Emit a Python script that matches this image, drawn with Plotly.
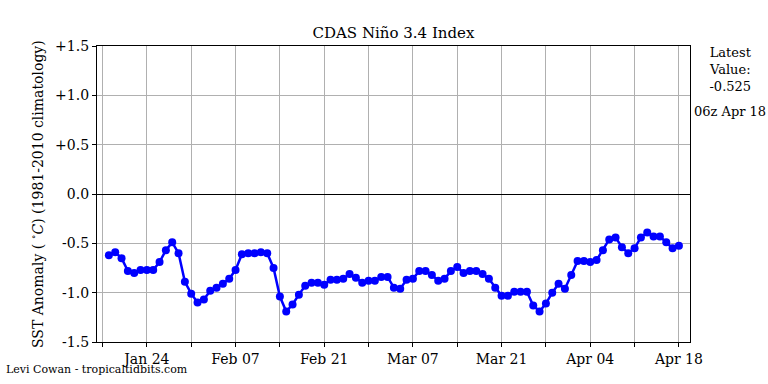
import plotly.graph_objects as go
import pandas as pd

start_date = "2018-01-18"
anomaly = [
    -0.62, -0.59, -0.65, -0.78, -0.80, -0.77, -0.77, -0.77, -0.69, -0.57,
    -0.49, -0.60, -0.89, -1.01, -1.10, -1.07, -0.98, -0.95, -0.91, -0.86,
    -0.77, -0.61, -0.60, -0.60, -0.59, -0.60, -0.75, -1.04, -1.19, -1.12,
    -1.02, -0.93, -0.90, -0.90, -0.92, -0.87, -0.87, -0.86, -0.81, -0.85,
    -0.90, -0.88, -0.88, -0.84, -0.84, -0.95, -0.96, -0.87, -0.86, -0.78,
    -0.78, -0.82, -0.88, -0.86, -0.78, -0.74, -0.80, -0.78, -0.78, -0.81,
    -0.86, -0.95, -1.03, -1.03, -0.99, -0.99, -0.99, -1.13, -1.19, -1.11,
    -1.00, -0.91, -0.96, -0.82, -0.68, -0.68, -0.69, -0.67, -0.57, -0.46,
    -0.44, -0.54, -0.60, -0.55, -0.44, -0.39, -0.43, -0.43, -0.49, -0.55,
    -0.525,
]
dates = pd.date_range(start_date, periods=len(anomaly), freq="D")

x_tick_dates = pd.date_range("2018-01-24", "2018-04-18", freq="14D")
x_tick_labels = [d.strftime("%b %d") for d in x_tick_dates]
y_tick_vals = [-1.5, -1.0, -0.5, 0.0, 0.5, 1.0, 1.5]
y_tick_labels = ["-1.5", "-1.0", "-0.5", "0.0", "+0.5", "+1.0", "+1.5"]

FONT = "DejaVu Serif"
DAY_MS = 86400000

W, H = 768, 384
L, R, T, B = 97, 78, 46, 42
PW, PH = W - L - R, H - T - B

fig = go.Figure()
fig.add_trace(go.Scatter(
    x=dates, y=anomaly, mode="lines+markers",
    line=dict(color="#0000ff", width=2.5),
    marker=dict(color="#0000ff", size=8),
    showlegend=False,
))

fig.update_layout(
    width=W, height=H,
    margin=dict(l=L, r=R, t=T, b=B),
    paper_bgcolor="white", plot_bgcolor="white",
    font=dict(family=FONT, size=14, color="black"),
    title=dict(text="CDAS Niño 3.4 Index", x=(L + PW / 2) / W, xanchor="center",
               y=1 - 33 / H, yanchor="middle", font=dict(family=FONT, size=15)),
    xaxis=dict(
        type="date",
        range=[pd.Timestamp("2018-01-16 03:00"), pd.Timestamp("2018-04-19 18:00")],
        tickvals=x_tick_dates, ticktext=x_tick_labels,
        showgrid=True, gridcolor="#b0b0b0", gridwidth=1,
        showline=True, linecolor="black", linewidth=1.3, mirror=True,
        ticks="outside", ticklen=4, tickcolor="black", tickwidth=1,
        tickfont=dict(family=FONT, size=14), zeroline=False,
        minor=dict(dtick=7 * DAY_MS, tick0="2018-01-17", showgrid=True,
                   gridcolor="#b0b0b0", gridwidth=1, ticks="outside",
                   ticklen=4, tickcolor="black", tickwidth=1),
    ),
    yaxis=dict(
        range=[-1.5, 1.5],
        tickvals=y_tick_vals, ticktext=y_tick_labels,
        showgrid=True, gridcolor="#b0b0b0", gridwidth=1,
        showline=True, linecolor="black", linewidth=1.3, mirror=True,
        ticks="outside", ticklen=4, tickcolor="black", tickwidth=1,
        tickfont=dict(family=FONT, size=14),
        zeroline=True, zerolinecolor="black", zerolinewidth=1,
    ),
)

fig.add_annotation(
    text="SST Anomaly ( <sup>∘</sup><i>C</i>) (1981-2010 climatology)",
    textangle=-90, xref="paper", yref="paper",
    x=(37 - L) / PW, y=0.5, xanchor="center", yanchor="middle",
    showarrow=False, font=dict(family=FONT, size=14),
)
fig.add_annotation(
    text="Latest<br>Value:<br>-0.525", xref="paper", yref="paper",
    x=(730 - L) / PW, y=(T + PH - 43) / PH, xanchor="center", yanchor="top",
    showarrow=False, font=dict(family=FONT, size=13),
)
fig.add_annotation(
    text="06z Apr 18", xref="paper", yref="paper",
    x=(730 - L) / PW, y=(T + PH - 111) / PH, xanchor="center", yanchor="middle",
    showarrow=False, font=dict(family=FONT, size=13),
)
fig.add_annotation(
    text="Levi Cowan - tropicaltidbits.com", xref="paper", yref="paper",
    x=(4 - L) / PW, y=(T + PH - 369) / PH, xanchor="left", yanchor="middle",
    showarrow=False, font=dict(family=FONT, size=11),
)

fig.write_html(
    "out.html",
    config={"displayModeBar": False},
    post_script="document.body.style.margin='0';document.body.style.overflow='hidden';",
)
